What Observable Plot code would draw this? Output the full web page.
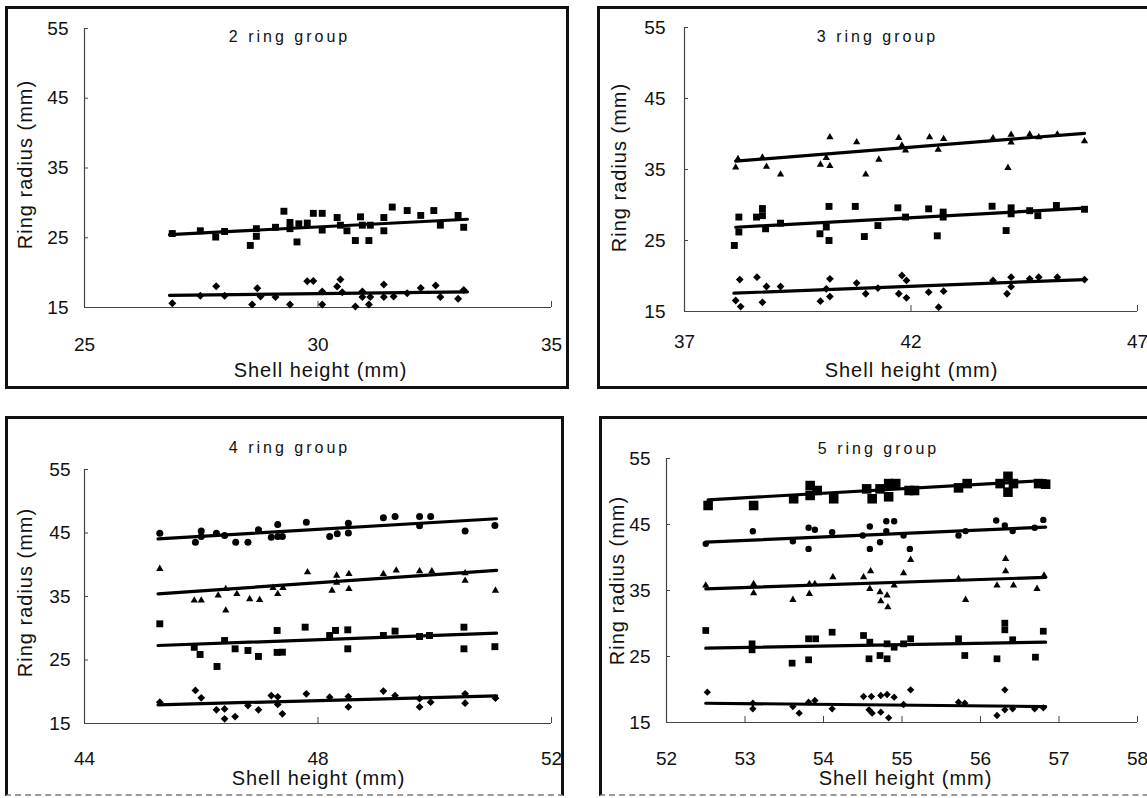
<!DOCTYPE html>
<html>
<head>
<meta charset="utf-8">
<script src="https://cdn.jsdelivr.net/npm/d3@7"></script>
<script src="https://cdn.jsdelivr.net/npm/@observablehq/plot@0.6"></script>
<style>
html, body { margin: 0; padding: 0; background: #fff; width: 1147px; height: 798px; overflow: hidden; }
#root { position: relative; width: 1147px; height: 798px; overflow: hidden; }
.frame { position: absolute; border: 3px solid #111; box-sizing: border-box; }
.frame.cut { border-bottom: 2px dashed #9a9a9a; }
.chart { position: absolute; }
</style>
</head>
<body>
<div id="root"></div>
<script>
// ---------- text ----------
const groupTitles = ["2 ring group", "3 ring group", "4 ring group", "5 ring group"];
const xTitle = "Shell height (mm)";
const yTitle = "Ring radius (mm)";

// ---------- ticks ----------
const yTicks = [15, 25, 35, 45, 55];
const xTicks2 = [25, 30, 35];
const xTicks3 = [37, 42, 47];
const xTicks4 = [44, 48, 52];
const xTicks5 = [52, 53, 54, 55, 56, 57, 58];

// ---------- 2 ring group: [shell height, ring radius] ----------
const g2_ring1 = [[26.88,15.6],[27.48,16.7],[27.82,18.05],[28.0,16.7],[28.59,15.43],[28.7,17.77],[28.77,16.58],[29.09,16.5],[29.4,15.43],[29.77,18.77],[29.9,18.8],[30.09,17.3],[30.09,15.43],[30.41,18.0],[30.48,19.0],[30.52,17.2],[30.8,15.14],[30.95,17.3],[30.95,16.5],[31.09,15.43],[31.12,16.5],[31.41,18.3],[31.41,16.5],[31.62,16.58],[31.91,17.05],[32.2,17.8],[32.52,18.15],[32.62,16.5],[33.0,16.25],[33.12,17.5]];
const g2_ring2 = [[26.88,25.6],[27.48,26.0],[27.81,25.1],[28.0,25.9],[28.55,23.9],[28.68,26.3],[28.68,25.2],[29.09,26.5],[29.27,28.8],[29.4,27.2],[29.4,26.3],[29.55,24.4],[29.59,27.0],[29.77,27.1],[29.9,28.5],[30.09,28.5],[30.09,26.1],[30.41,27.9],[30.48,26.8],[30.62,26.0],[30.8,24.6],[30.91,28.0],[30.95,26.8],[31.09,24.6],[31.12,26.8],[31.41,27.9],[31.41,26.0],[31.59,29.4],[31.91,28.9],[32.2,28.2],[32.48,28.9],[32.62,26.8],[33.0,28.2],[33.12,26.5]];
const g2_fit = [[26.82,16.75,33.2,17.25],[26.82,25.45,33.2,27.65]];

// ---------- 3 ring group ----------
const g3_ring1 = [[38.13,16.55],[38.24,15.7],[38.22,19.5],[38.6,19.83],[38.81,18.52],[38.72,16.3],[39.12,18.52],[40.0,16.45],[40.13,18.2],[40.21,19.6],[40.21,17.1],[40.8,19.0],[41.0,17.5],[41.27,18.3],[41.73,17.5],[41.8,20.07],[41.9,19.37],[41.9,16.93],[42.39,17.72],[42.61,15.6],[42.72,17.86],[43.81,19.37],[44.12,17.5],[44.21,19.83],[44.21,18.5],[44.62,19.6],[44.82,19.83],[45.23,19.83],[45.83,19.5]];
const g3_ring2 = [[38.1,24.3],[38.2,28.3],[38.2,26.2],[38.59,28.3],[38.72,29.5],[38.72,28.5],[38.79,26.65],[39.12,27.44],[39.99,25.95],[40.19,29.8],[40.19,25.0],[40.13,26.9],[40.77,29.8],[40.97,25.56],[41.27,27.1],[41.71,29.6],[41.88,28.3],[42.39,29.46],[42.58,25.66],[42.71,29.0],[42.71,28.3],[43.79,29.83],[44.1,26.4],[44.21,29.6],[44.21,28.76],[44.62,29.2],[44.8,28.5],[45.21,29.93],[45.83,29.4]];
const g3_ring3 = [[38.18,36.5],[38.13,35.3],[38.72,36.7],[38.81,35.4],[39.12,34.3],[40.21,39.55],[40.0,35.7],[40.21,35.5],[40.13,36.65],[40.8,38.85],[41.0,34.3],[41.29,36.4],[41.73,39.46],[41.8,38.4],[41.88,37.7],[42.41,39.55],[42.6,37.8],[42.72,39.3],[43.81,39.4],[44.14,35.24],[44.21,39.9],[44.21,38.8],[44.62,39.93],[44.82,39.55],[45.23,39.93],[45.83,39.0]];
const g3_fit = [[38.09,17.58,45.83,19.5],[38.13,26.87,45.83,29.55],[38.13,36.17,45.83,40.1]];

// ---------- 4 ring group ----------
const g4_ring1 = [[45.29,18.36],[45.9,20.2],[46.0,19.05],[46.26,17.16],[46.4,17.3],[46.4,15.74],[46.58,16.1],[46.8,17.83],[46.98,17.16],[47.2,19.4],[47.31,19.2],[47.31,18.0],[47.39,16.53],[47.8,19.68],[48.2,19.15],[48.52,19.25],[48.52,17.6],[49.12,20.1],[49.32,19.4],[49.74,18.9],[49.74,17.6],[49.93,18.36],[50.52,19.68],[50.52,18.2],[51.04,18.99]];
const g4_ring2 = [[45.29,30.7],[45.88,27.0],[45.98,25.87],[46.27,23.98],[46.4,28.07],[46.58,26.76],[46.8,26.5],[46.98,25.56],[47.3,29.65],[47.3,26.2],[47.39,26.23],[47.78,30.17],[48.2,28.86],[48.3,29.65],[48.51,29.75],[48.51,26.76],[49.12,28.86],[49.32,29.55],[49.74,28.7],[49.91,28.86],[50.5,30.17],[50.5,26.76],[51.03,27.1]];
const g4_ring3 = [[45.29,39.36],[45.88,34.37],[46.0,34.37],[46.29,35.16],[46.42,36.2],[46.42,32.8],[46.61,35.42],[46.83,34.6],[47.0,34.48],[47.23,36.37],[47.31,35.42],[47.4,36.37],[47.82,38.83],[48.24,35.94],[48.32,38.3],[48.32,37.2],[48.53,38.57],[48.53,36.2],[49.12,38.57],[49.34,39.1],[49.74,38.99],[49.95,38.99],[50.52,38.67],[50.52,37.5],[51.04,35.94]];
const g4_ring4 = [[45.29,44.97],[45.9,43.55],[46.0,45.3],[46.0,44.45],[46.26,44.97],[46.4,44.6],[46.59,43.55],[46.8,43.55],[46.98,45.5],[47.2,44.34],[47.31,46.34],[47.31,44.45],[47.39,44.45],[47.8,46.7],[48.2,44.45],[48.33,44.87],[48.52,46.54],[48.52,45.0],[49.12,47.4],[49.32,47.6],[49.74,47.6],[49.93,47.6],[49.74,46.16],[50.52,45.3],[51.03,46.18]];
const g4_fit = [[45.26,17.94,51.06,19.36],[45.26,27.28,51.06,29.22],[45.26,35.42,51.06,39.1],[45.26,44.08,51.06,47.24]];

// ---------- 5 ring group ----------
const g5_ring1 = [[52.52,19.6],[53.1,17.93],[53.1,17.07],[53.61,17.42],[53.69,16.41],[53.81,18.08],[53.89,18.33],[54.11,17.07],[54.51,18.94],[54.61,18.94],[54.58,16.92],[54.62,16.41],[54.73,19.09],[54.73,16.56],[54.81,19.24],[54.83,15.71],[54.9,18.84],[55.02,17.73],[55.11,19.95],[55.72,18.08],[55.8,17.93],[56.21,16.06],[56.31,19.95],[56.31,16.92],[56.41,17.07],[56.69,17.07],[56.8,17.22]];
const g5_ring2 = [[52.5,28.94],[53.09,26.92],[53.09,26.01],[53.6,23.99],[53.81,27.68],[53.9,27.68],[53.81,24.5],[54.11,28.68],[54.51,28.18],[54.58,24.65],[54.59,27.17],[54.72,25.15],[54.81,24.65],[54.81,26.92],[54.9,26.41],[55.02,26.92],[55.11,27.68],[55.72,27.68],[55.8,25.15],[56.21,24.65],[56.31,30.05],[56.31,29.04],[56.41,27.53],[56.7,24.9],[56.8,28.83]];
const g5_ring3 = [[52.5,35.76],[53.11,36.01],[53.11,34.6],[53.61,33.59],[53.82,36.01],[53.82,34.5],[53.89,36.01],[54.12,37.02],[54.51,37.02],[54.6,37.93],[54.59,35.26],[54.72,34.75],[54.73,33.38],[54.81,34.24],[54.82,32.47],[54.9,35.76],[55.02,37.62],[55.11,39.65],[55.72,36.77],[55.81,33.59],[56.21,35.76],[56.32,37.93],[56.32,39.8],[56.42,35.76],[56.72,35.26],[56.81,37.27]];
const g5_ring4 = [[52.5,42.07],[53.1,43.98],[53.61,42.47],[53.81,44.5],[53.81,41.3],[53.89,44.2],[54.11,43.83],[54.5,43.33],[54.59,44.7],[54.59,41.3],[54.72,42.3],[54.8,45.5],[54.9,45.5],[54.8,44.0],[55.02,43.33],[55.1,41.3],[55.72,43.33],[55.81,44.0],[56.2,45.6],[56.31,44.85],[56.41,44.0],[56.69,44.5],[56.8,45.7]];
const g5_ring5 = [[52.53,47.88],[53.11,47.88],[53.62,48.9],[53.83,50.9],[53.83,49.4],[53.92,50.15],[54.13,48.9],[54.55,50.4],[54.62,48.9],[54.72,50.4],[54.83,51.2],[54.83,49.2],[54.92,51.2],[55.09,50.15],[55.16,50.15],[55.72,50.55],[55.83,51.2],[56.25,51.2],[56.35,52.3],[56.35,49.9],[56.42,51.2],[56.74,51.2],[56.83,51.1]];
const g5_fit = [[52.5,17.92,56.83,17.42],[52.5,26.26,56.83,27.17],[52.5,35.26,56.83,37.0],[52.5,42.32,56.83,44.6],[52.53,48.74,56.83,51.67]];

// ---------- layout ----------
const panels = [
  { title: groupTitles[0], xDomain: [25, 35], xTicks: xTicks2, fits: g2_fit,
    series: [{data: g2_ring1, symbol: "diamond2", r: 3.6}, {data: g2_ring2, symbol: "square", r: 3.9}],
    frame: {left: 5, top: 6, width: 564, height: 383}, cut: false,
    ox: 10, oy: 10, W: 555, H: 375, mL: 74, mR: 14, mT: 18, mB: 78, padX: 35.5, padY: 20,
    tPos: [205, 8], xtPos: [236, 342], ytPos: [-59, 136] },
  { title: groupTitles[1], xDomain: [37, 47], xTicks: xTicks3, fits: g3_fit,
    series: [{data: g3_ring1, symbol: "diamond2", r: 3.5}, {data: g3_ring2, symbol: "square", r: 3.9}, {data: g3_ring3, symbol: "triangle", r: 2.7}],
    frame: {left: 597, top: 6, width: 620, height: 383}, cut: false,
    ox: 603, oy: 10, W: 544, H: 375, mL: 81, mR: 10, mT: 17, mB: 74, padX: 28.5, padY: 23,
    tPos: [193, 9], xtPos: [227, 343], ytPos: [-65, 140] },
  { title: groupTitles[2], xDomain: [44, 52], xTicks: xTicks4, fits: g4_fit,
    series: [{data: g4_ring1, symbol: "diamond2", r: 3.5}, {data: g4_ring2, symbol: "square", r: 3.9}, {data: g4_ring3, symbol: "triangle", r: 2.7}, {data: g4_ring4, symbol: "circle", r: 3.5}],
    frame: {left: 5, top: 416, width: 559, height: 380}, cut: true,
    ox: 10, oy: 421, W: 550, H: 377, mL: 74, mR: 9, mT: 48, mB: 75, padX: 33.5, padY: 18,
    tPos: [205, -22], xtPos: [234, 309], ytPos: [-59, 123] },
  { title: groupTitles[3], xDomain: [52, 58], xTicks: xTicks5, fits: g5_fit,
    series: [{data: g5_ring1, symbol: "diamond2", r: 3.3}, {data: g5_ring2, symbol: "square", r: 3.8}, {data: g5_ring3, symbol: "triangle", r: 2.7}, {data: g5_ring4, symbol: "circle", r: 3.2}, {data: g5_ring5, symbol: "square", r: 5.4}],
    frame: {left: 599, top: 416, width: 620, height: 380}, cut: true,
    ox: 604, oy: 421, W: 543, H: 377, mL: 62, mR: 10, mT: 37, mB: 76, padX: 34.5, padY: 20,
    tPos: [212, -10], xtPos: [239, 320], ytPos: [-49, 122] }
];

const root = document.getElementById("root");
const font = "'Liberation Sans', Arial, Helvetica, sans-serif";

for (const p of panels) {
  const fr = document.createElement("div");
  fr.className = p.cut ? "frame cut" : "frame";
  Object.assign(fr.style, {left: p.frame.left + "px", top: p.frame.top + "px", width: p.frame.width + "px", height: p.frame.height + "px"});
  root.appendChild(fr);

  const fitRows = p.fits.flatMap((f, i) => [{x: f[0], y: f[1], k: i}, {x: f[2], y: f[3], k: i}]);

  const marks = [
    Plot.ruleX([p.xDomain[0]], {stroke: "#444", strokeWidth: 1.2}),
    Plot.ruleY([yTicks[0]], {stroke: "#444", strokeWidth: 1.2}),
    Plot.axisX({ticks: p.xTicks, tickSize: -6, tickPadding: p.padX, tickFormat: d => String(d), label: null, stroke: "#444", fill: "#111", fontSize: 19}),
    Plot.axisY({ticks: yTicks, tickSize: -4, tickPadding: p.padY, tickFormat: d => String(d), label: null, stroke: "#444", fill: "#111", fontSize: 19}),
    ...p.series.map(s => Plot.dot(s.data, {x: d => d[0], y: d => d[1], symbol: s.symbol, r: s.r, fill: "#000", stroke: "none"})),
    Plot.line(fitRows, {x: "x", y: "y", z: "k", stroke: "#000", strokeWidth: 3.2}),
    Plot.text([p.title], {text: d => d, frameAnchor: "top-left", dx: p.tPos[0], dy: p.tPos[1], fontSize: 16, textAnchor: "middle", lineAnchor: "middle", fill: "#111"}),
    Plot.text([xTitle], {text: d => d, frameAnchor: "top-left", dx: p.xtPos[0], dy: p.xtPos[1], fontSize: 20, textAnchor: "middle", lineAnchor: "middle", fill: "#111"}),
    Plot.text([yTitle], {text: d => d, frameAnchor: "top-left", dx: p.ytPos[0], dy: p.ytPos[1], rotate: -90, fontSize: 20, textAnchor: "middle", lineAnchor: "middle", fill: "#111"})
  ];

  const svg = Plot.plot({
    width: p.W, height: p.H,
    marginLeft: p.mL, marginRight: p.mR, marginTop: p.mT, marginBottom: p.mB,
    x: {domain: p.xDomain},
    y: {domain: [yTicks[0], yTicks[yTicks.length - 1]]},
    style: {fontFamily: font, fontSize: "19px", color: "#111", background: "none", overflow: "visible", maxWidth: "none"},
    marks
  });
  svg.querySelectorAll("text").forEach(t => {
    const s = t.textContent;
    if (groupTitles.includes(s)) t.setAttribute("letter-spacing", "3");
    else if (s === xTitle || s === yTitle) t.setAttribute("letter-spacing", "1");
  });

  const wrap = document.createElement("div");
  wrap.className = "chart";
  Object.assign(wrap.style, {left: p.ox + "px", top: p.oy + "px", width: p.W + "px", height: p.H + "px"});
  wrap.appendChild(svg);
  root.appendChild(wrap);
}
</script>
</body>
</html>
